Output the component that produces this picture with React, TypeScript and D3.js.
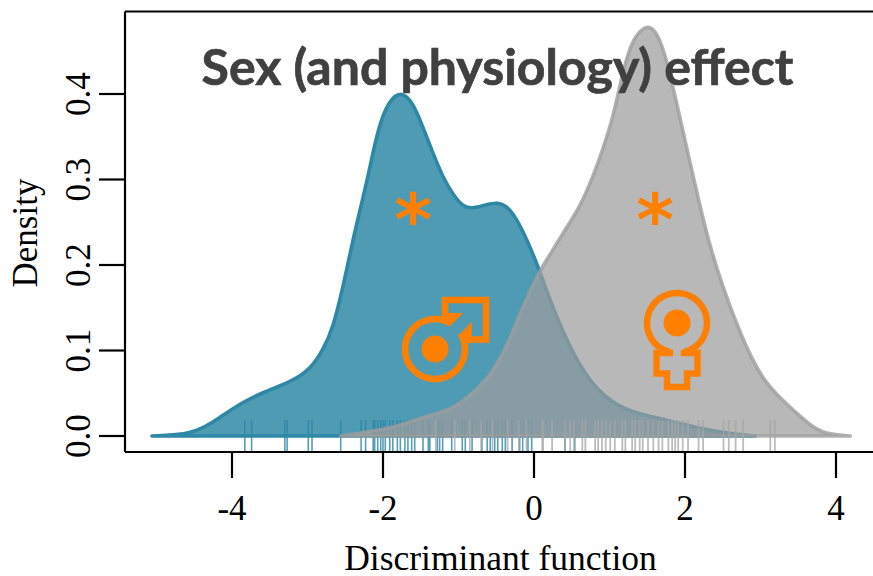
import React from "react";
import * as d3 from "d3";

const W = 873, H = 576;
const blueX = [-5.06,-4.69,-4.46,-4.25,-4.03,-3.80,-3.59,-3.23,-2.97,-2.79,-2.66,-2.53,-2.40,-2.28,-2.17,-2.07,-1.93,-1.75,-1.60,-1.47,-1.34,-1.21,-1.07,-0.94,-0.81,-0.65,-0.48,-0.32,-0.15,0.04,0.21,0.38,0.61,0.83,1.18,1.63,1.93,2.37,2.93];
const blueY = [0,0.0015,0.006,0.016,0.030,0.042,0.051,0.063,0.077,0.101,0.127,0.174,0.229,0.273,0.315,0.358,0.392,0.404,0.389,0.361,0.331,0.303,0.282,0.268,0.266,0.270,0.274,0.267,0.241,0.202,0.159,0.122,0.081,0.054,0.030,0.021,0.015,0.005,0];
const greyX = [-2.56,-2.17,-1.81,-1.47,-1.11,-0.89,-0.58,-0.36,-0.15,0.08,0.17,0.38,0.61,0.78,0.91,1.05,1.18,1.31,1.50,1.63,1.76,1.89,2.07,2.29,2.50,2.73,3.03,3.48,3.70,3.92,4.19];
const greyY = [0,0.005,0.011,0.022,0.030,0.044,0.069,0.104,0.151,0.194,0.206,0.237,0.268,0.303,0.335,0.373,0.428,0.466,0.482,0.473,0.440,0.389,0.319,0.233,0.174,0.120,0.062,0.027,0.009,0.0015,0];
const blueRug = [-3.83,-3.74,-3.30,-3.27,-2.99,-2.94,-2.56,-2.29,-2.23,-2.13,-2.11,-2.07,-2.03,-2,-1.97,-1.91,-1.87,-1.81,-1.77,-1.71,-1.67,-1.62,-1.58,-1.47,-1.40,-1.38,-1.28,-1.25,-1.21,-1.09,-0.95,-0.91,-0.82,-0.69,-0.62,-0.58,-0.52,-0.48,-0.42,-0.38,-0.29,-0.19,-0.15,-0.08,-0.03,0.41,0.54];
const greyRug = [-1.3,-1.05,-0.85,-0.7,-0.55,-0.35,-0.2,-0.1,0.11,0.12,0.24,0.41,0.48,0.53,0.64,0.68,0.81,0.85,0.90,0.95,1.01,1.07,1.17,1.21,1.30,1.34,1.40,1.44,1.51,1.58,1.65,1.70,1.78,1.83,1.87,1.91,1.97,2.04,2.18,2.24,2.51,2.58,2.67,2.77,3.13,3.19];
const xTicks = [-4,-2,0,2,4];
const yTicks = [0,0.1,0.2,0.3,0.4];

const x = d3.scaleLinear().domain([-4,4]).range([232,836]);
const y = d3.scaleLinear().domain([0,0.4]).range([436,94]);
const pts = (a: number[], b: number[]) => a.map((v,i)=>[v,b[i]] as [number,number]);
const area = d3.area<[number,number]>().x(d=>x(d[0])).y0(y(0)).y1(d=>y(d[1])).curve(d3.curveBasis);
const serif = "'Liberation Serif', serif";
const OR = "#ff8000";
const RUG_T = 420, RUG_B = 451;
const rad = (deg: number) => deg * Math.PI / 180;
const ring = (a0: number, a1: number) => d3.arc()({ innerRadius: 26.75, outerRadius: 33.25, startAngle: rad(a0), endAngle: rad(a1) } as any)!;

export default function App() {
  const b = pts(blueX, blueY), g = pts(greyX, greyY);
  return (
    <svg width={W} height={H} style={{position:"absolute",left:0,top:0,background:"#fff"}}>
      <path d={area(b)!} fill="#4f9bb4" stroke="#2d88a6" strokeWidth={3.6} strokeLinejoin="round" />
      {blueRug.map((v,i)=><line key={i} x1={x(v)} x2={x(v)} y1={RUG_T} y2={RUG_B} stroke="#2d88a6" strokeWidth={1.6} opacity={0.8}/>)}
      <path d={area(g)!} fill="#9d9d9d" fillOpacity={0.72} stroke="#9d9d9d" strokeOpacity={0.8} strokeWidth={3.6} strokeLinejoin="round" />
      {greyRug.map((v,i)=><line key={i} x1={x(v)} x2={x(v)} y1={RUG_T} y2={RUG_B} stroke="#a6a6a6" strokeWidth={1.8} opacity={0.75}/>)}

      <path d={`M125 11.5H873M125 11.5V452M125 452H873`} fill="none" stroke="#000" strokeWidth={2.2}/>
      {xTicks.map(t=><g key={t}>
        <line x1={x(t)} x2={x(t)} y1={452} y2={478} stroke="#000" strokeWidth={2.2}/>
        <text x={x(t)} y={520} textAnchor="middle" fontFamily={serif} fontSize={35}>{t}</text>
      </g>)}
      {yTicks.map(t=><g key={t}>
        <line x1={99} x2={125} y1={y(t)} y2={y(t)} stroke="#000" strokeWidth={2.2}/>
        <text transform={`translate(90,${y(t)}) rotate(-90)`} textAnchor="middle" fontFamily={serif} fontSize={35}>{t.toFixed(1)}</text>
      </g>)}
      <text x={500.5} y={570} textAnchor="middle" fontFamily={serif} fontSize={35.5}>Discriminant function</text>
      <text transform="translate(37,233) rotate(-90)" textAnchor="middle" fontFamily={serif} fontSize={35}>Density</text>

      <text x={497.5} y={85} textAnchor="middle" fontFamily="Lato, sans-serif" fontWeight={700} fontSize={50} fill="#404040" stroke="#404040" strokeWidth={0.7}>Sex (and physiology) effect</text>

      <text x={413} y={245} textAnchor="middle" fontFamily="'DejaVu Sans', sans-serif" fontWeight={700} fontSize={72} fill={OR}>*</text>
      <text x={655} y={245} textAnchor="middle" fontFamily="'DejaVu Sans', sans-serif" fontWeight={700} fontSize={72} fill={OR}>*</text>

      <g fill="none" stroke={OR} strokeWidth={6.5}>
        <path d="M445 318V300H486V339.5H466"/>
        <path d="M670 350V353H656.5V373.5H667V387H687V373.5H697.5V353H684V350"/>
      </g>
      <g fill={OR}>
        <path transform="translate(435,349)" d={ring(58.7, 391.3)}/>
        <path transform="translate(677,323)" d={ring(193, 527)}/>
        <circle cx={435} cy={349} r={13.5}/>
        <circle cx={677} cy={323} r={13.5}/>
        <path d="M441.7 313H463L449.3 326.7Z"/>
        <path d="M471.7 321.7V343H466.7L458.3 336Z"/>
      </g>
    </svg>
  );
}
